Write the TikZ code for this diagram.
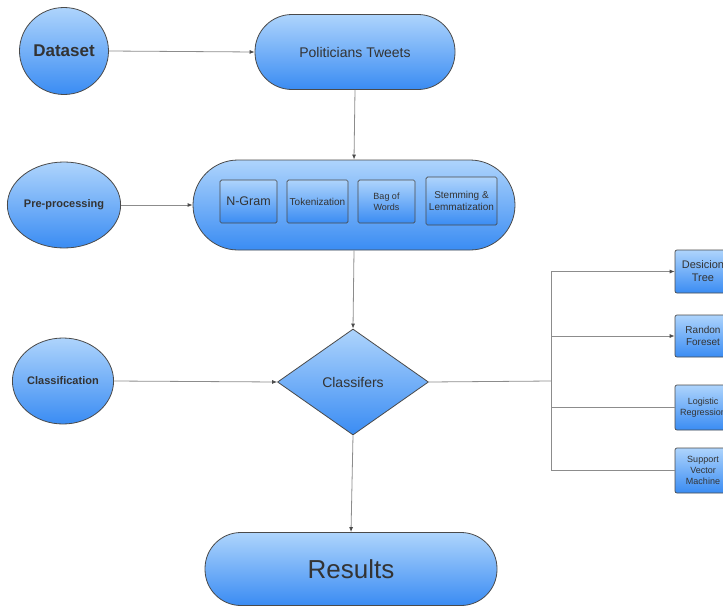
\documentclass[tikz,border=0pt]{standalone}
\usepackage{fontspec}
\setmainfont{Liberation Sans}
\usetikzlibrary{shapes.geometric,arrows.meta}
\definecolor{topblue}{HTML}{AED4FC}
\definecolor{botblue}{HTML}{3A8CF3}
\definecolor{edge}{HTML}{4A4A4A}
\definecolor{txt}{HTML}{333333}
\definecolor{conn}{HTML}{8C8C8C}
\tikzset{
  bluefill/.style={draw=edge, line width=0.8pt, top color=topblue, bottom color=botblue, text=txt, inner sep=0pt, align=center},
  startcirc/.style={bluefill, ellipse},
  pill/.style={bluefill, rectangle},
  innerbox/.style={bluefill, rectangle, rounded corners=1.5pt, line width=0.7pt},
  sidebox/.style={bluefill, rectangle, rounded corners=2pt, line width=0.7pt, minimum width=56pt},
  dia/.style={bluefill, diamond, minimum width=151pt, minimum height=106pt},
  conline/.style={draw=conn, line width=0.8pt},
  arr/.style={conline, -{Latex[length=5pt,width=4pt,color=edge]}}
}
\begin{document}
\begin{tikzpicture}[x=1pt,y=-1pt]
\useasboundingbox (0,0) rectangle (723,608);
\clip (0,0) rectangle (723,608);
% left circles
\node[startcirc, minimum width=89pt, minimum height=87pt, font=\fontsize{17}{19}\selectfont\bfseries] (ds) at (64,51) {Dataset};
\node[startcirc, minimum width=99pt, minimum height=86pt, font=\fontsize{11}{13}\selectfont\bfseries] (pp) at (64,205) {Pre-processing};
\node[startcirc, minimum width=94pt, minimum height=86pt, font=\fontsize{11}{13}\selectfont\bfseries] (cl) at (63,381) {Classification};
% main column
\node[pill, minimum width=200pt, minimum height=75pt, rounded corners=37pt, font=\fontsize{14}{16}\selectfont] (pt) at (355,52) {Politicians Tweets};
\node[pill, minimum width=322pt, minimum height=90pt, rounded corners=45pt] (prep) at (354,205) {};
\node[innerbox, minimum width=57pt, minimum height=43pt, font=\fontsize{12.5}{14}\selectfont] (ng) at (248.5,201.5) {N-Gram};
\node[innerbox, minimum width=61pt, minimum height=43pt, font=\fontsize{10}{12}\selectfont] (tk) at (317.5,201.5) {Tokenization};
\node[innerbox, minimum width=57pt, minimum height=43pt, font=\fontsize{9}{11}\selectfont] (bw) at (386.5,201.5) {Bag of\\Words};
\node[innerbox, minimum width=71pt, minimum height=48pt, font=\fontsize{10}{12}\selectfont] (sl) at (461.5,201) {Stemming \&\\Lemmatization};
\node[dia, font=\fontsize{14}{16}\selectfont] (cf) at (353,382) {Classifers};
\node[pill, minimum width=292pt, minimum height=73pt, rounded corners=36pt, font=\fontsize{26}{28}\selectfont] (rs) at (351,569) {Results};
% right boxes
\node[sidebox, minimum height=43pt, font=\fontsize{11}{13}\selectfont] (dt) at (703,271.5) {Desicion\\Tree};
\node[sidebox, minimum height=42pt, font=\fontsize{10}{12}\selectfont] (rf) at (703,336) {Randon\\Foreset};
\node[sidebox, minimum height=45pt, font=\fontsize{9}{11}\selectfont] (lr) at (703,407.5) {Logistic\\Regression};
\node[sidebox, minimum height=45pt, font=\fontsize{9}{11}\selectfont] (sv) at (703,470.5) {Support\\Vector\\Machine};
% connectors
\draw[arr] (ds.east) -- (pt.west);
\draw[arr] (pp.east) -- (prep.west);
\draw[arr] (cl.east) -- (cf.west);
\draw[arr] (pt.south) -- (prep.north);
\draw[arr] (prep.south) -- (cf.north);
\draw[arr] (cf.south) -- (rs.north);
\coordinate (j) at (551,381);
\draw[conline] (cf.east) -- (j);
\draw[conline] (551,273) -- (551,470);
\draw[arr] (j) |- (dt.west);
\draw[arr] (j) |- (rf.west);
\draw[conline] (j) |- (lr.west);
\draw[conline] (j) |- (sv.west);
\end{tikzpicture}
\end{document}
